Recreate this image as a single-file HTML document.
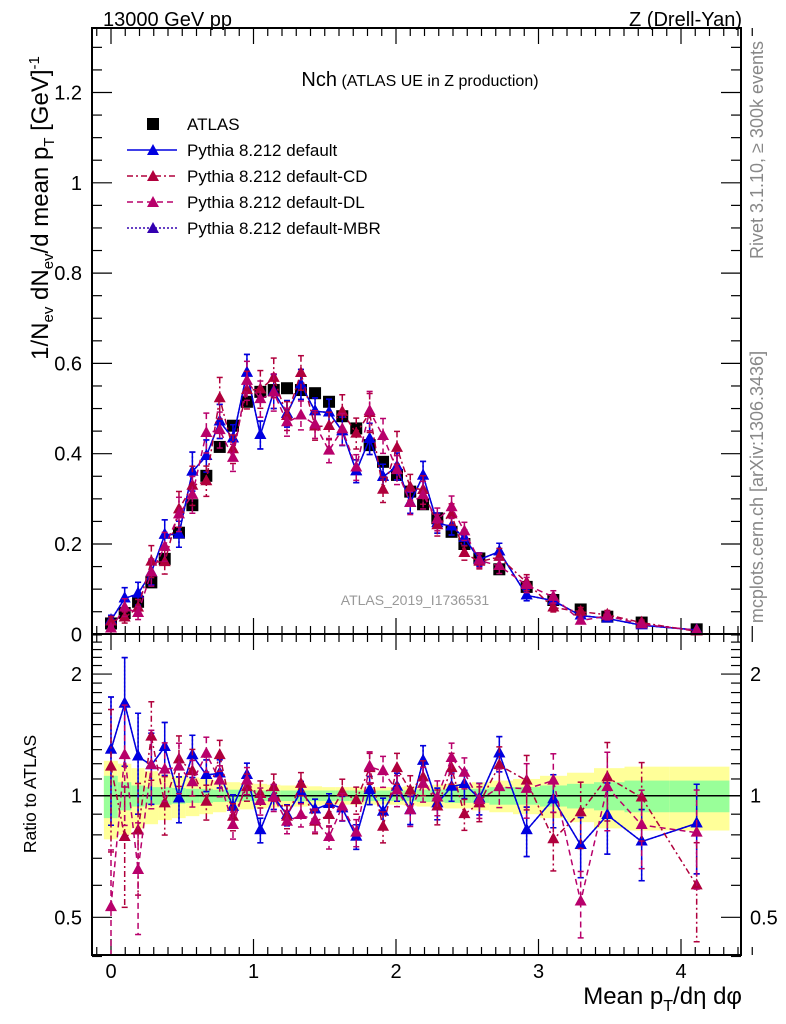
<!DOCTYPE html>
<html><head><meta charset="utf-8"><style>
html,body{margin:0;padding:0;background:#fff;}
svg{display:block;font-family:"Liberation Sans",sans-serif;}
</style></head><body>
<svg id="chart" width="786" height="1024" viewBox="0 0 786 1024">
<rect x="0" y="0" width="786" height="1024" fill="#fff"/>
<g id="bands"></g>
<g id="ticks"></g>
<g id="series"></g>
<rect x="92" y="28" width="649" height="606" fill="none" stroke="#000" stroke-width="2"/>
<rect x="92" y="634" width="649" height="321" fill="none" stroke="#000" stroke-width="2"/>
<text x="103" y="26" font-size="20">13000 GeV pp</text>
<text x="742" y="26" font-size="20" text-anchor="end">Z (Drell-Yan)</text>
<text x="420" y="86" text-anchor="middle"><tspan font-size="20">Nch</tspan><tspan font-size="16"> (ATLAS UE in Z production)</tspan></text>
<g font-size="17">
 <rect x="147" y="118" width="12" height="12" fill="#000"/>
 <text x="187" y="130">ATLAS</text>
 <line x1="127" y1="150" x2="177" y2="150" stroke="#0000e0" stroke-width="1.5"/>
 <polygon points="153,144 147,155 159,155" fill="#0000e0"/>
 <text x="187" y="156">Pythia 8.212 default</text>
 <line x1="127" y1="176" x2="177" y2="176" stroke="#b0003c" stroke-width="1.5" stroke-dasharray="6,3,2,3"/>
 <polygon points="153,170 147,181 159,181" fill="#b0003c"/>
 <text x="187" y="182">Pythia 8.212 default-CD</text>
 <line x1="127" y1="202" x2="177" y2="202" stroke="#b8006b" stroke-width="1.5" stroke-dasharray="6,4"/>
 <polygon points="153,196 147,207 159,207" fill="#b8006b"/>
 <text x="187" y="208">Pythia 8.212 default-DL</text>
 <line x1="127" y1="228" x2="177" y2="228" stroke="#3300b0" stroke-width="1.5" stroke-dasharray="2,2"/>
 <polygon points="153,222 147,233 159,233" fill="#3300b0"/>
 <text x="187" y="234">Pythia 8.212 default-MBR</text>
</g>
<text transform="translate(48,208) rotate(-90)" text-anchor="middle" font-size="24">1/N<tspan font-size="15" dy="5">ev</tspan><tspan dy="-5"> dN</tspan><tspan font-size="15" dy="5">ev</tspan><tspan dy="-5">/d mean p</tspan><tspan font-size="15" dy="6">T</tspan><tspan dy="-6"> [GeV]</tspan><tspan font-size="15" dy="-9">-1</tspan></text>
<text transform="translate(36,794) rotate(-90)" text-anchor="middle" font-size="17.5">Ratio to ATLAS</text>
<text transform="translate(763,150) rotate(-90)" text-anchor="middle" font-size="18" fill="#888">Rivet 3.1.10, ≥ 300k events</text>
<text transform="translate(763,487) rotate(-90)" text-anchor="middle" font-size="18" fill="#888">mcplots.cern.ch [arXiv:1306.3436]</text>
<text x="415" y="605" text-anchor="middle" font-size="14" fill="#999">ATLAS_2019_I1736531</text>
<text x="742" y="1004" text-anchor="end" font-size="24">Mean p<tspan font-size="16" dy="7">T</tspan><tspan dy="-7">/dη dφ</tspan></text>
</svg>
<script>
const xs = [0,0.096,0.19,0.283,0.377,0.477,0.571,0.669,0.763,0.856,0.954,1.048,1.142,1.235,1.333,1.432,1.53,1.623,1.721,1.815,1.909,2.007,2.1,2.19,2.29,2.39,2.48,2.585,2.725,2.917,3.104,3.296,3.483,3.724,4.11];
const atlas = [0.024,0.047,0.072,0.115,0.167,0.225,0.286,0.351,0.415,0.462,0.515,0.537,0.541,0.545,0.541,0.534,0.515,0.483,0.456,0.419,0.382,0.353,0.316,0.288,0.257,0.227,0.2,0.168,0.144,0.105,0.076,0.055,0.039,0.026,0.011];
const ratioDefault = [1.30,1.69,1.25,1.19,1.32,0.985,1.26,1.125,1.136,0.939,1.125,0.822,0.994,0.896,1.023,0.925,0.954,0.931,0.792,1.033,0.913,1.053,0.922,1.22,0.958,1.053,1.069,0.985,1.273,0.822,0.98,0.755,0.896,0.77,0.854];
const ratioCD = [1.18,0.79,0.82,1.40,0.957,1.23,1.15,0.966,1.26,0.887,1.05,1.01,1.05,0.887,1.07,0.862,0.896,1.02,0.975,1.17,0.838,1.17,1.03,1.11,0.94,1.17,0.90,0.957,1.19,1.09,0.78,0.91,1.11,0.99,0.6];
const ratioDL = [0.53,1.26,0.655,1.19,1.16,1.18,1.08,1.27,1.09,0.846,1.09,0.97,0.99,0.862,0.896,0.87,0.79,0.94,0.81,1.18,1.15,1.03,0.92,1.07,0.99,1.24,1.14,0.975,1.05,1.04,1.09,0.547,1.05,0.846,0.81];
const ratioMBR = [1.30,1.69,1.25,1.19,1.32,0.985,1.26,1.125,1.136,0.939,1.125,0.822,0.994,0.896,1.023,0.925,0.954,0.931,0.792,1.033,0.913,1.053,0.922,1.22,0.958,1.053,1.069,0.985,1.273,0.822,0.98,0.755,0.896,0.77,0.854];
const mcErr = [0.35,0.3,0.28,0.2,0.15,0.13,0.12,0.09,0.08,0.07,0.07,0.07,0.07,0.06,0.06,0.06,0.06,0.07,0.07,0.08,0.08,0.08,0.08,0.09,0.09,0.08,0.08,0.09,0.1,0.14,0.15,0.17,0.2,0.2,0.25];
const greenBand = [0.12,0.08,0.06,0.05,0.05,0.045,0.04,0.04,0.035,0.035,0.03,0.03,0.03,0.03,0.03,0.03,0.03,0.03,0.03,0.03,0.03,0.03,0.03,0.035,0.035,0.04,0.04,0.04,0.05,0.05,0.06,0.07,0.08,0.09,0.09];
const yellowBand = [0.22,0.2,0.17,0.15,0.13,0.12,0.11,0.1,0.09,0.08,0.075,0.07,0.065,0.06,0.06,0.055,0.05,0.05,0.05,0.05,0.05,0.05,0.055,0.06,0.065,0.07,0.07,0.08,0.09,0.1,0.12,0.14,0.17,0.18,0.18];
const xTicks = [0,1,2,3,4];
const yTicks = [0,0.2,0.4,0.6,0.8,1,1.2];
const yTickLabels = ["0","0.2","0.4","0.6","0.8","1","1.2"];
const rTicks = [0.5,1,2];
const rTickLabels = ["0.5","1","2"];

const NS="http://www.w3.org/2000/svg";
const X = v => 111 + 142.5*v;
const Y = v => 634.3 - 451.5*v;
const R = v => 795.7 - 404*Math.log10(v);
function mk(tag, attrs, parent){const e=document.createElementNS(NS,tag);for(const k in attrs)e.setAttribute(k,attrs[k]);parent.appendChild(e);return e;}
const bands=document.getElementById('bands'), ticks=document.getElementById('ticks'), series=document.getElementById('series');

const edges=[-0.05];
for(let i=0;i<xs.length-1;i++) edges.push((xs[i]+xs[i+1])/2);
edges.push(4.34);
for(let i=0;i<xs.length;i++){
  const y=mk('rect',{x:X(edges[i]),y:R(1+yellowBand[i]),width:X(edges[i+1])-X(edges[i]),height:R(1-yellowBand[i])-R(1+yellowBand[i]),fill:'#ffff99'},bands);
  
  
  const g=mk('rect',{x:X(edges[i]),y:R(1+greenBand[i]),width:X(edges[i+1])-X(edges[i]),height:R(1-greenBand[i])-R(1+greenBand[i]),fill:'#99ff99'},bands);
  
  
}
const one=mk('line',{x1:92,x2:741,y1:R(1),y2:R(1),stroke:'#000','stroke-width':1.5},bands);



for(let v=-0.1;v<=4.5;v+=0.1){
  const vv=Math.round(v*10)/10; const major=Math.abs(vv-Math.round(vv))<1e-6;
  const L=major?16:8;
  for(const [yb,dir] of [[634,-1],[28,1],[955,-1],[634,1]]){
    mk('line',{x1:X(vv),x2:X(vv),y1:yb,y2:yb+dir*L,stroke:'#000','stroke-width':1.2},ticks);
  }
}
xTicks.forEach(v=>{
  const t=mk('text',{x:X(v),y:978,'font-size':20,'text-anchor':'middle'},ticks);t.textContent=String(v);
  
  
});
for(let k=0;k<=26;k++){
  const v=k*0.05; const major=k%4===0; const L=major?20:10;
  mk('line',{x1:92,x2:92+L,y1:Y(v),y2:Y(v),stroke:'#000','stroke-width':1.2},ticks);
  mk('line',{x1:741,x2:741-L,y1:Y(v),y2:Y(v),stroke:'#000','stroke-width':1.2},ticks);
}
yTicks.forEach((v,i)=>{
  const t=mk('text',{x:82,y:Y(v)+7,'font-size':20,'text-anchor':'end'},ticks);t.textContent=yTickLabels[i];
  
  
});
[0.4,0.5,0.6,0.7,0.8,0.9,1,1.1,1.2,1.3,1.4,1.5,1.6,1.7,1.8,1.9,2,2.1,2.2,2.3,2.4,2.5].forEach(v=>{
  const major=(v===0.5||v===1||v===2); const L=major?20:10;
  mk('line',{x1:92,x2:92+L,y1:R(v),y2:R(v),stroke:'#000','stroke-width':1.2},ticks);
  mk('line',{x1:741,x2:741-L,y1:R(v),y2:R(v),stroke:'#000','stroke-width':1.2},ticks);
});
rTicks.forEach((v,i)=>{
  const t=mk('text',{x:82,y:R(v)+7,'font-size':20,'text-anchor':'end'},ticks);t.textContent=rTickLabels[i];
  
  
  const t2=mk('text',{x:750,y:R(v)+7,'font-size':20},ticks);t2.textContent=rTickLabels[i];
  
  
});

function tri(cx,cy,col,parent){return mk('polygon',{points:`${cx},${cy-7} ${cx-6},${cy+4} ${cx+6},${cy+4}`,fill:col},parent);}
function drawSeries(ratio,col,dash,name,errScale){
  const g=mk('g',{},series);
  
  
  const mainPts=[],ratPts=[];
  ratio.forEach((r,i)=>{
    const m=atlas[i]*r, e=mcErr[i]*errScale;
    mainPts.push(X(xs[i])+','+Y(m)); ratPts.push(X(xs[i])+','+R(r));
    const cx=X(xs[i]);
    [[Y(m*(1+e)),Y(Math.max(m*(1-e),0))],[R(r*(1+e)),Math.min(R(Math.max(r*(1-e),0.3)),955)]].forEach(([a,b])=>{
      mk('line',{x1:cx,x2:cx,y1:a,y2:b,stroke:col,'stroke-width':1.5,'stroke-dasharray':dash},g);
      mk('line',{x1:cx-3,x2:cx+3,y1:a,y2:a,stroke:col,'stroke-width':1.5},g);
      if(b<954) mk('line',{x1:cx-3,x2:cx+3,y1:b,y2:b,stroke:col,'stroke-width':1.5},g);
    });
  });
  mk('polyline',{points:mainPts.join(' '),fill:'none',stroke:col,'stroke-width':1.5,'stroke-dasharray':dash},g);
  const rl=mk('polyline',{points:ratPts.join(' '),fill:'none',stroke:col,'stroke-width':1.5,'stroke-dasharray':dash},g);
  rl.setAttribute('clip-path','url(#ratioClip)');
  ratio.forEach((r,i)=>{
    const a=tri(X(xs[i]),Y(atlas[i]*r),col,g);
    
    
    if(R(r)<955){const b=tri(X(xs[i]),R(r),col,g);
    
    }
  });
}
const defs=mk('defs',{},document.getElementById('chart'));
const cp=mk('clipPath',{id:'ratioClip'},defs);mk('rect',{x:92,y:634,width:649,height:321},cp);
const ag=mk('g',{},series);


atlas.forEach((v,i)=>{
  const s=mk('rect',{x:X(xs[i])-6,y:Y(v)-6,width:12,height:12,fill:'#000'},ag);
  
  
});
drawSeries(ratioMBR,'#3300b0','2,2','series-mbr',1.0);
drawSeries(ratioDefault,'#0000e0','','series-default',1.0);
drawSeries(ratioCD,'#b0003c','6,3,2,3','series-cd',1.1);
drawSeries(ratioDL,'#b8006b','6,4','series-dl',1.1);
</script>
</body></html>
